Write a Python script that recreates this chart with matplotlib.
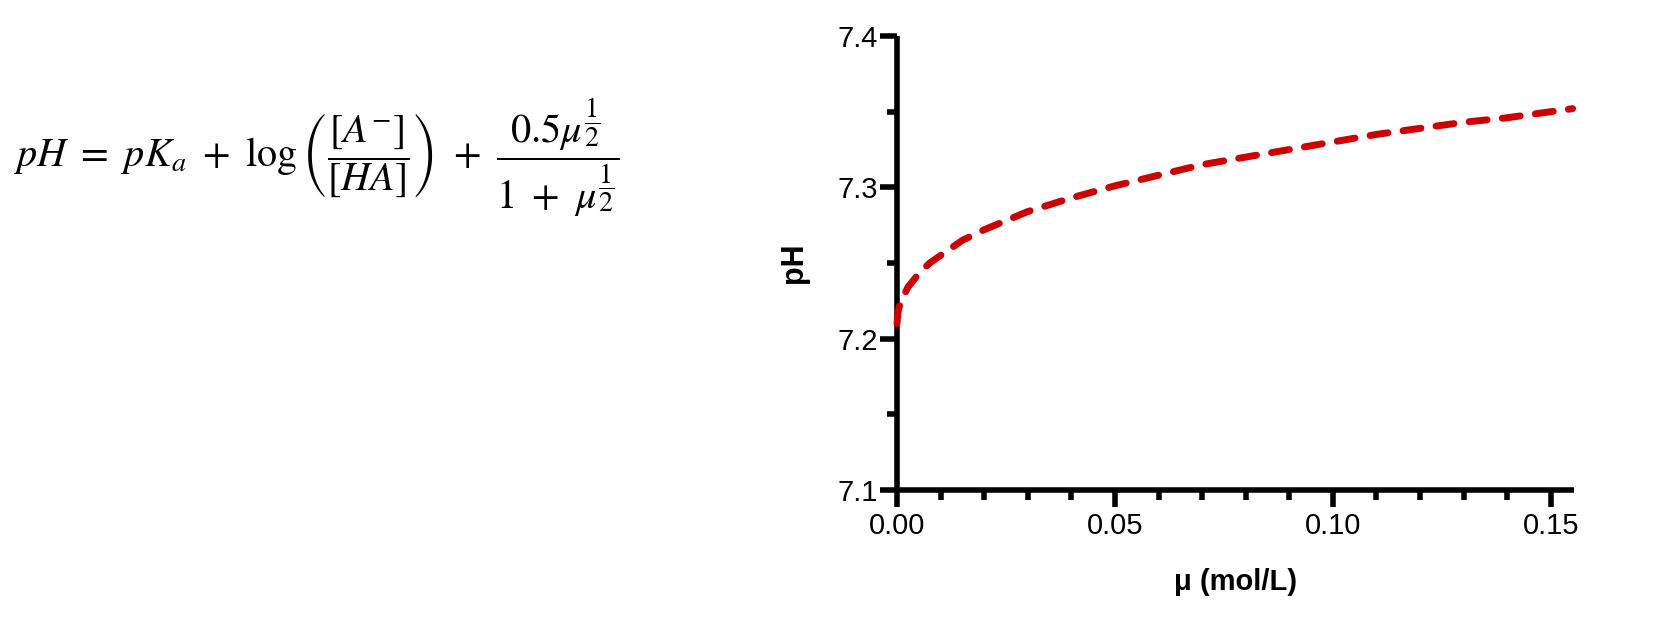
import matplotlib
matplotlib.use('Agg')
import matplotlib.pyplot as plt
from matplotlib.ticker import MultipleLocator

# Values
mu = [0.0, 0.0002, 0.0005, 0.001, 0.0025, 0.005, 0.0075, 0.01, 0.015, 0.02,
      0.03, 0.04, 0.05, 0.06, 0.07, 0.08, 0.09, 0.10, 0.11, 0.12, 0.13,
      0.14, 0.15, 0.155]
ph = [7.210, 7.217, 7.221, 7.225, 7.234, 7.243, 7.250, 7.255, 7.265, 7.272,
      7.284, 7.293, 7.301, 7.308, 7.315, 7.320, 7.325, 7.330, 7.335, 7.339,
      7.343, 7.346, 7.350, 7.352]

x_ticks = [0.00, 0.05, 0.10, 0.15]
x_labels = ['0.00', '0.05', '0.10', '0.15']
y_ticks = [7.1, 7.2, 7.3, 7.4]
y_labels = ['7.1', '7.2', '7.3', '7.4']

equation = (r'$pH\ =\ pK_a\ +\ \log\left(\dfrac{[A^{-}]}{[HA]}\right)'
            r'\ +\ \dfrac{0.5\mu^{\dfrac{1}{2}}}{1\ +\ \mu^{\dfrac{1}{2}}}$')

plt.rcParams['font.family'] = ['Liberation Sans', 'DejaVu Sans']
plt.rcParams['mathtext.fontset'] = 'stix'

fig = plt.figure(figsize=(16.55, 6.19), dpi=100)
fig.patch.set_facecolor('white')

# Equation on the left
fig.text(0.008, 0.745, equation, fontsize=29, ha='left', va='center')

ax = fig.add_axes([0.542, 0.2084, 0.409, 0.7334])
ax.plot(mu, ph, color='#cc0000', linewidth=5, linestyle=(0, (2.6, 2.2)),
        dash_capstyle='round', solid_capstyle='round', clip_on=False, zorder=5)

ax.set_xlim(0, 0.1553)
ax.set_ylim(7.1, 7.4)
ax.set_xticks(x_ticks)
ax.set_xticklabels(x_labels)
ax.set_yticks(y_ticks)
ax.set_yticklabels(y_labels)
ax.xaxis.set_minor_locator(MultipleLocator(0.01))
ax.yaxis.set_minor_locator(MultipleLocator(0.05))

for side in ['top', 'right']:
  ax.spines[side].set_visible(False)
for side in ['left', 'bottom']:
  ax.spines[side].set_linewidth(4)
  ax.spines[side].set_capstyle('butt')

ax.tick_params(which='major', length=12, width=4, labelsize=21, pad=4, color='black')
ax.tick_params(which='minor', length=7.5, width=4, color='black')
ax.tick_params(axis='y', which='major', pad=2)

ax.set_xlabel('μ (mol/L)', fontsize=21, fontweight='bold', labelpad=20)
ax.set_ylabel('pH', fontsize=22, fontweight='bold', labelpad=20)

fig.savefig('out.png', dpi=100, facecolor='white')
